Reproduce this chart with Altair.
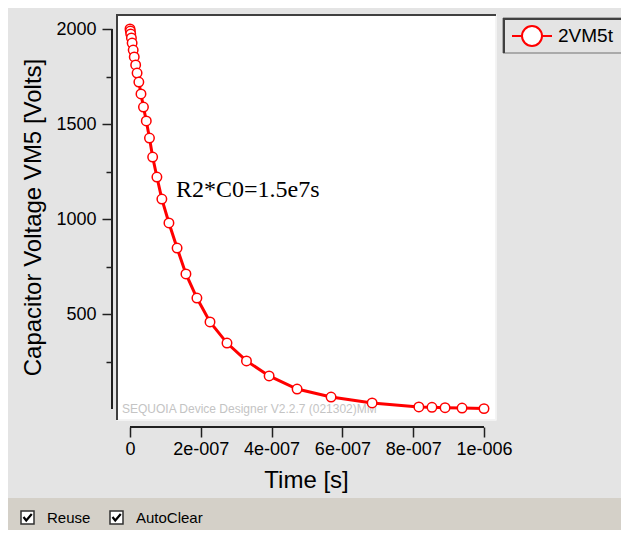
import json
import altair as alt
import pandas as pd

# ---------------- data ----------------
series_name = "2VM5t"
time_ns = [0, 1, 2, 4, 6, 9, 12, 16, 20, 25, 31, 38, 46, 55, 64, 76, 90,
           110, 133, 158, 189, 226, 274, 329, 393, 472, 568, 684,
           816, 853, 890, 938, 1000]
voltage = [2000, 1989, 1974, 1953, 1926, 1889, 1853, 1811, 1768, 1721, 1658,
           1589, 1516, 1426, 1326, 1221, 1105, 979, 847, 711, 584, 458, 347,
           253, 174, 105, 63, 32, 11, 9, 7, 5, 2]

x_tick_values = [0, 100, 200, 300, 400, 500, 600, 700, 800, 900, 1000]
x_tick_labels = ["0", "", "2e-007", "", "4e-007", "", "6e-007", "", "8e-007", "", "1e-006"]
y_tick_values = [250, 500, 750, 1000, 1250, 1500, 1750, 2000]
y_tick_labels = ["", "500", "", "1000", "", "1500", "", "2000"]

x_title = "Time [s]"
y_title = "Capacitor Voltage VM5 [Volts]"

annotation_text = ["R2*C0=1.5e7s"]
annotation_t = [130]
annotation_v = [1116]

watermark_text = "SEQUOIA Device Designer V2.2.7 (021302)MM"
checkbox_labels = ["Reuse", "AutoClear"]

# ---------------- chart ----------------
df = pd.DataFrame({"time_ns": time_ns, "voltage": voltage, "series": [series_name] * len(time_ns)})
ann_df = pd.DataFrame({"time_ns": annotation_t, "voltage": annotation_v, "label": annotation_text})
one = pd.DataFrame({"k": [0]})

FONT = "Liberation Sans"
W, H = 380, 406

xs = alt.Scale(domain=[-39.55, 1033.9], nice=False, zero=False)
ys = alt.Scale(domain=[-57.89, 2078.95], nice=False, zero=False)

x_axis = alt.Axis(
    values=x_tick_values,
    labelExpr=f"{json.dumps(x_tick_labels)}[round(datum.value/100)]",
    tickSize={"condition": {"test": "datum.value % 200 == 0", "value": 10}, "value": 6},
    tickColor="#202020", tickWidth=1.5, domain=False, grid=False, offset=7,
    labelFont=FONT, labelFontSize=18, labelColor="black", labelPadding=3,
    labelFlush=False, labelOverlap=False, labelBound=False,
    title=x_title, titleFont=FONT, titleFontSize=24, titleFontWeight="normal",
    titleColor="black", titlePadding=10,
)
y_axis = alt.Axis(
    values=y_tick_values,
    labelExpr=f"{json.dumps(y_tick_labels)}[round(datum.value/250)-1]",
    tickSize={"condition": {"test": "datum.value % 500 == 0", "value": 10}, "value": 6},
    tickColor="#202020", tickWidth=1.5, domain=False, grid=False, offset=4,
    labelFont=FONT, labelFontSize=18, labelColor="black", labelPadding=6,
    labelFlush=False, labelOverlap=False, labelBound=False,
    title=y_title, titleFont=FONT, titleFontSize=24, titleFontWeight="normal",
    titleColor="black", titlePadding=10,
)

legend_symbol = "M-1,0L-0.5,0M-0.5,0A0.5,0.5,0,1,1,0.5,0A0.5,0.5,0,1,1,-0.5,0M0.5,0L1,0"
check_shape = "M-0.8,-0.1L-0.25,0.6L0.85,-0.7"

strip = alt.Chart(one).mark_rect(color="#d4d0c8").encode(
    x=alt.value(-108), x2=alt.value(510), y=alt.value(484), y2=alt.value(520))

box_top = alt.Chart(one).mark_rule(color="#404040", strokeWidth=2).encode(
    x=alt.value(0), x2=alt.value(W), y=alt.value(1))
box_left = alt.Chart(one).mark_rule(color="#404040", strokeWidth=2).encode(
    x=alt.value(1), y=alt.value(0), y2=alt.value(H))
box_right = alt.Chart(one).mark_rule(color="#f4f4f4", strokeWidth=1).encode(
    x=alt.value(W - 0.5), y=alt.value(2), y2=alt.value(H))
box_bottom = alt.Chart(one).mark_rule(color="#f4f4f4", strokeWidth=1).encode(
    x=alt.value(2), x2=alt.value(W), y=alt.value(H - 0.5))

x_line = alt.Chart(one).mark_rule(color="#202020", strokeWidth=2).encode(
    x=alt.datum(0), x2=alt.datum(1000), y=alt.value(413))
y_line = alt.Chart(one).mark_rule(color="#202020", strokeWidth=2).encode(
    y=alt.datum(0), y2=alt.datum(2000), x=alt.value(-4))

watermark = alt.Chart(one).mark_text(font=FONT, fontSize=12, color="#c4c4c4",
                                     align="left", baseline="alphabetic").encode(
    x=alt.value(6), y=alt.value(399), text=alt.value(watermark_text))

line = alt.Chart(df).mark_line(color="#ff0000", strokeWidth=3).encode(
    x=alt.X("time_ns:Q", scale=xs, axis=x_axis),
    y=alt.Y("voltage:Q", scale=ys, axis=y_axis),
)
points = alt.Chart(df).mark_point(shape="circle", filled=False, fill="white",
                                  strokeWidth=1.5, size=90, opacity=1).encode(
    x="time_ns:Q", y="voltage:Q",
    color=alt.Color("series:N", scale=alt.Scale(range=["#ff0000"]),
                    legend=alt.Legend(orient="none", legendX=395, legendY=1, padding=0,
                                      title=None, symbolType=legend_symbol, symbolSize=1600,
                                      symbolStrokeWidth=2, symbolFillColor="white",
                                      labelFont=FONT, labelFontSize=19, labelColor="black",
                                      labelOffset=5)),
)
annotation = alt.Chart(ann_df).mark_text(font="Liberation Serif", fontSize=24, align="left",
                                         baseline="alphabetic", color="black").encode(
    x="time_ns:Q", y="voltage:Q", text="label:N")

leg_box = alt.Chart(one).mark_rect(fill="#e4e4e4", stroke="#707070", strokeWidth=1).encode(
    x=alt.value(387), x2=alt.value(511), y=alt.value(4), y2=alt.value(39))
leg_top = alt.Chart(one).mark_rule(color="#404040", strokeWidth=2).encode(
    x=alt.value(387), x2=alt.value(511), y=alt.value(5))
leg_left = alt.Chart(one).mark_rule(color="#404040", strokeWidth=2).encode(
    x=alt.value(388), y=alt.value(4), y2=alt.value(39))

cb_layers = []
for bx, tx, lab in [(-95, -69, checkbox_labels[0]), (-6, 20, checkbox_labels[1])]:
    cb_layers.append(alt.Chart(one).mark_rect(fill="white", stroke="#303030", strokeWidth=1.5).encode(
        x=alt.value(bx), x2=alt.value(bx + 13), y=alt.value(497), y2=alt.value(510)))
    cb_layers.append(alt.Chart(one).mark_point(shape=check_shape, filled=False, color="black",
                                               strokeWidth=2.2, size=100, opacity=1).encode(
        x=alt.value(bx + 6.5), y=alt.value(503.5)))
    cb_layers.append(alt.Chart(one).mark_text(font=FONT, fontSize=15, color="black",
                                              align="left", baseline="middle").encode(
        x=alt.value(tx), y=alt.value(504), text=alt.value(lab)))

chart = alt.layer(
    strip, leg_box, leg_top, leg_left, box_top, box_left, box_right, box_bottom,
    x_line, y_line, watermark, line, points, annotation, *cb_layers
).properties(
    width=W, height=H,
    padding={"left": 108, "top": 6, "right": 125, "bottom": 110},
    autosize=alt.AutoSizeParams(type="none"),
    background="#e4e4e4",
).configure_view(fill="white", stroke="transparent")

chart.save("out.html", embed_options={"renderer": "svg", "actions": False})
